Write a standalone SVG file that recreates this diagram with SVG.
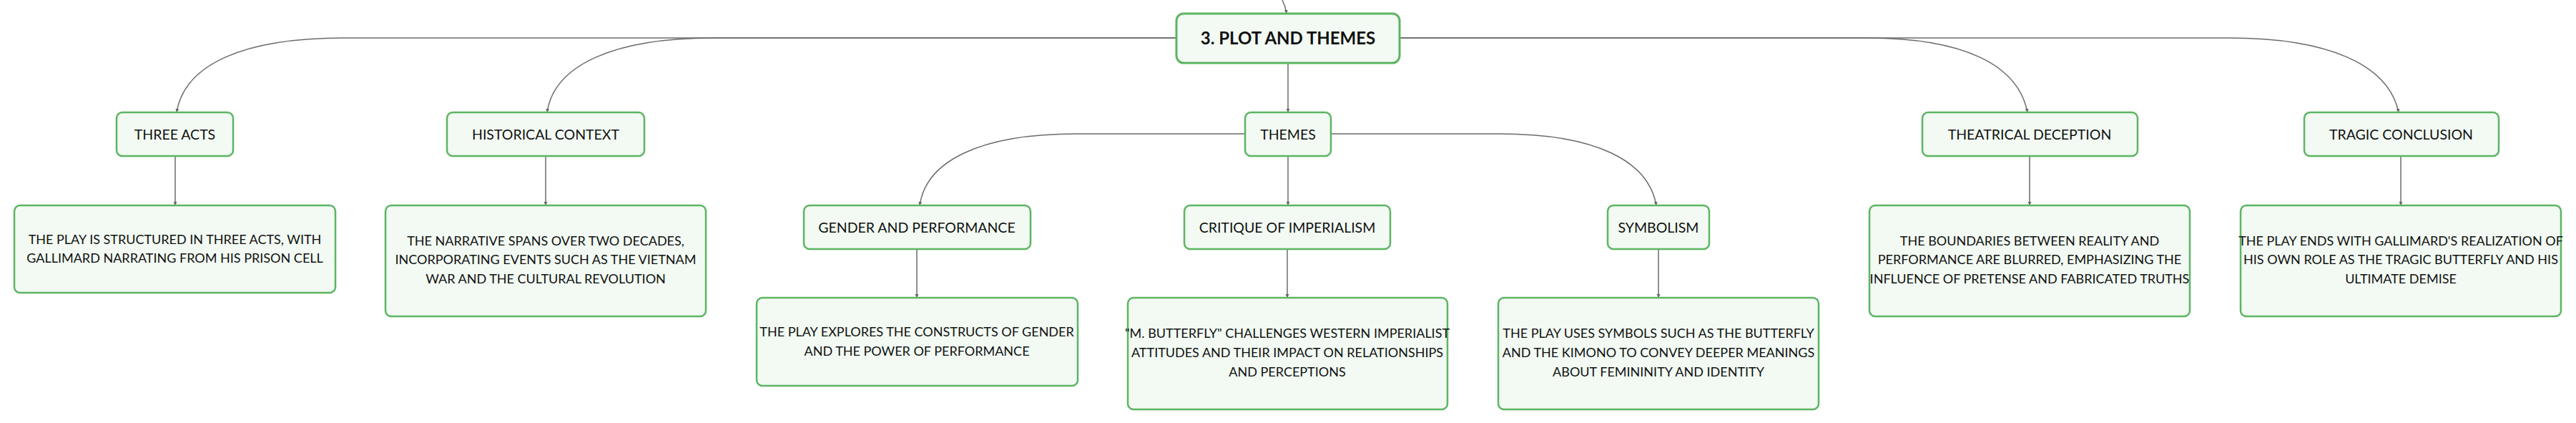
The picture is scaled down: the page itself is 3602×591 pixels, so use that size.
<svg xmlns="http://www.w3.org/2000/svg" width="3602" height="591" viewBox="0 0 3602 591">
<defs>
<marker id="arr" markerWidth="6" markerHeight="6" refX="5" refY="3" orient="auto" markerUnits="userSpaceOnUse">
<path d="M0,0.5 L5,3 L0,5.5 Z" fill="#666"/>
</marker>
<style>
.box{fill:#f2faf3;stroke:#5cb562;stroke-width:2.5}
.root{fill:#f2faf3;stroke:#5cb562;stroke-width:3}
.c{fill:none;stroke:#6b6b6b;stroke-width:1.5;marker-end:url(#arr)}
text{font-family:Lato,"Noto Sans","Liberation Sans",sans-serif;fill:#111;text-anchor:middle}
.t0{font-size:24px;font-weight:bold}
.t1{font-size:19.5px}
.t2{font-size:18px}
</style>
</defs>
<rect width="3602" height="591" fill="#ffffff"/>
<g id="connectors">
<path class="c" d="M1793,0 C1796,6 1798,12 1799,19"/>
<path class="c" d="M1645,53 L481,53 C340,53 258,90 247,157"/>
<path class="c" d="M1645,53 L998,53 C860,53 775,90 765,157"/>
<path class="c" d="M1957,53 L2610,53 C2745,53 2822,90 2835,157"/>
<path class="c" d="M1957,53 L3117,53 C3255,53 3340,90 3354,157"/>
<path class="c" d="M1801,88 L1801,157"/>
<path class="c" d="M1741,187 L1505,187 C1370,187 1295,225 1286,287"/>
<path class="c" d="M1801,218 L1801,287"/>
<path class="c" d="M1861,187 L2097,187 C2232,187 2305,225 2316,287"/>
<path class="c" d="M245,218 L245,287"/>
<path class="c" d="M763,218 L763,287"/>
<path class="c" d="M1282,348 L1282,416"/>
<path class="c" d="M1800,348 L1800,416"/>
<path class="c" d="M2319,348 L2319,416"/>
<path class="c" d="M2838,218 L2838,287"/>
<path class="c" d="M3357,218 L3357,287"/>
</g>
<g id="root">
<rect class="root" x="1645" y="19" width="312" height="69" rx="10"/>
<text class="t0" x="1801" y="62">3. PLOT AND THEMES</text>
</g>
<g id="three-acts">
<rect class="box" x="163" y="157" width="163" height="61" rx="8"/>
<text class="t1" x="244.5" y="194.5">THREE ACTS</text>
</g>
<g id="historical-context">
<rect class="box" x="625" y="157" width="276" height="61" rx="8"/>
<text class="t1" x="763" y="194.5">HISTORICAL CONTEXT</text>
</g>
<g id="themes">
<rect class="box" x="1741" y="157" width="120" height="61" rx="8"/>
<text class="t1" x="1801" y="194.5">THEMES</text>
</g>
<g id="theatrical-deception">
<rect class="box" x="2688" y="157" width="301" height="61" rx="8"/>
<text class="t1" x="2838" y="194.5">THEATRICAL DECEPTION</text>
</g>
<g id="tragic-conclusion">
<rect class="box" x="3222" y="157" width="272" height="61" rx="8"/>
<text class="t1" x="3357.5" y="194.5">TRAGIC CONCLUSION</text>
</g>
<g id="gender-performance">
<rect class="box" x="1124" y="287" width="317" height="61" rx="8"/>
<text class="t1" x="1282" y="324.5">GENDER AND PERFORMANCE</text>
</g>
<g id="critique-imperialism">
<rect class="box" x="1656" y="287" width="288" height="61" rx="8"/>
<text class="t1" x="1800" y="324.5">CRITIQUE OF IMPERIALISM</text>
</g>
<g id="symbolism">
<rect class="box" x="2248" y="287" width="142" height="61" rx="8"/>
<text class="t1" x="2319" y="324.5">SYMBOLISM</text>
</g>
<g id="three-acts-detail">
<rect class="box" x="20" y="287" width="449" height="122" rx="8"/>
<text class="t2" x="244.5" y="340.5">THE PLAY IS STRUCTURED IN THREE ACTS, WITH</text>
<text class="t2" x="244.5" y="367">GALLIMARD NARRATING FROM HIS PRISON CELL</text>
</g>
<g id="historical-context-detail">
<rect class="box" x="539" y="287" width="448" height="155" rx="8"/>
<text class="t2" x="763" y="342.5">THE NARRATIVE SPANS OVER TWO DECADES,</text>
<text class="t2" x="763" y="369">INCORPORATING EVENTS SUCH AS THE VIETNAM</text>
<text class="t2" x="763" y="395.5">WAR AND THE CULTURAL REVOLUTION</text>
</g>
<g id="gender-performance-detail">
<rect class="box" x="1058" y="416" width="449" height="123" rx="8"/>
<text class="t2" x="1282" y="470">THE PLAY EXPLORES THE CONSTRUCTS OF GENDER</text>
<text class="t2" x="1282" y="497">AND THE POWER OF PERFORMANCE</text>
</g>
<g id="critique-imperialism-detail">
<rect class="box" x="1577" y="416" width="447" height="156" rx="8"/>
<text class="t2" x="1800" y="472">"M. BUTTERFLY" CHALLENGES WESTERN IMPERIALIST</text>
<text class="t2" x="1800" y="499">ATTITUDES AND THEIR IMPACT ON RELATIONSHIPS</text>
<text class="t2" x="1800" y="526">AND PERCEPTIONS</text>
</g>
<g id="symbolism-detail">
<rect class="box" x="2095" y="416" width="448" height="156" rx="8"/>
<text class="t2" x="2319" y="472">THE PLAY USES SYMBOLS SUCH AS THE BUTTERFLY</text>
<text class="t2" x="2319" y="499">AND THE KIMONO TO CONVEY DEEPER MEANINGS</text>
<text class="t2" x="2319" y="526">ABOUT FEMININITY AND IDENTITY</text>
</g>
<g id="theatrical-deception-detail">
<rect class="box" x="2614" y="287" width="448" height="155" rx="8"/>
<text class="t2" x="2838" y="342.5">THE BOUNDARIES BETWEEN REALITY AND</text>
<text class="t2" x="2838" y="369">PERFORMANCE ARE BLURRED, EMPHASIZING THE</text>
<text class="t2" x="2838" y="395.5">INFLUENCE OF PRETENSE AND FABRICATED TRUTHS</text>
</g>
<g id="tragic-conclusion-detail">
<rect class="box" x="3133" y="287" width="448" height="155" rx="8"/>
<text class="t2" x="3357" y="342.5">THE PLAY ENDS WITH GALLIMARD'S REALIZATION OF</text>
<text class="t2" x="3357" y="369">HIS OWN ROLE AS THE TRAGIC BUTTERFLY AND HIS</text>
<text class="t2" x="3357" y="395.5">ULTIMATE DEMISE</text>
</g>
</svg>
